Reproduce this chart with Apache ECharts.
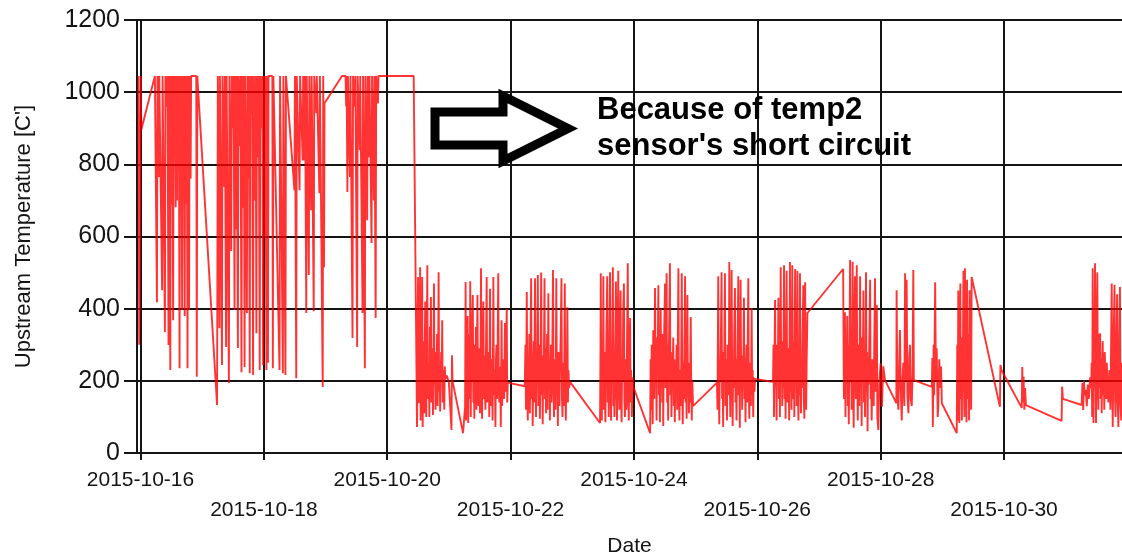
<!DOCTYPE html>
<html>
<head>
<meta charset="utf-8">
<title>Upstream Temperature</title>
<script src="https://cdn.jsdelivr.net/npm/echarts@6/dist/echarts.min.js"></script>
<style>
html, body { margin: 0; padding: 0; background: #fff; }
#chart { width: 1122px; height: 559px; }
</style>
</head>
<body>
<div id="chart"></div>
<script>
// start of the record, hours below are counted from here
const startDate = '2015-10-16'
// grid dates, one every two days
const tickDates = ['2015-10-16', '2015-10-18', '2015-10-20', '2015-10-22', '2015-10-24', '2015-10-26', '2015-10-28', '2015-10-30']
const yTicks = [0, 200, 400, 600, 800, 1000, 1200]

// [hours since start, upstream temperature]
// 16th - 20th: temp2 sensor short circuit, readings pinned near 1045
const shortCircuit = [
  [-0.8, 1045], [-0.5, 300], [0.1, 1045], [0.3, 895], [5.6, 1045],
  [6.3, 1045], [6.4, 418], [6.6, 1045], [7.1, 765], [7.3, 1045], [8.4, 451], [8.6, 1045], [9.5, 335], [9.7, 1045],
  [10.3, 960], [10.5, 1045], [10.9, 299], [11.1, 1045], [11.6, 230], [11.8, 1045], [12.2, 690], [12.4, 1045],
  [12.7, 368], [12.9, 1045], [13.2, 820], [13.4, 1045], [13.7, 681], [13.9, 1045], [14.2, 700], [14.4, 1045],
  [14.7, 880], [14.9, 1045], [15.2, 235], [15.4, 1045], [15.7, 720], [15.9, 1045], [16.2, 396], [16.4, 1045],
  [16.7, 840], [16.9, 1045], [17.2, 380], [17.4, 1045], [17.8, 690], [18.0, 1045], [18.3, 235], [18.5, 1045],
  [18.9, 396], [19.1, 1045], [19.5, 760], [19.7, 1045], [21.7, 1045], [21.9, 211], [22.1, 1045], [22.6, 1045],
  [29.8, 133],
  [30.1, 1045], [30.7, 346], [30.9, 1045], [31.7, 244], [31.9, 1045], [32.6, 737], [32.8, 1045], [33.3, 294],
  [33.5, 1045], [34.4, 194], [34.6, 1045], [35.3, 560], [35.5, 1045], [36.0, 900], [36.2, 1045], [36.6, 396],
  [36.8, 1045], [37.2, 620], [37.4, 1045], [37.9, 291], [38.1, 1045], [38.7, 850], [38.9, 1045], [39.3, 224],
  [39.5, 1045], [40.0, 680], [40.2, 1045], [40.5, 238], [40.7, 1045], [41.4, 388], [41.6, 1045], [42.0, 760],
  [42.2, 1045], [42.5, 221], [42.7, 1045], [43.2, 940], [43.4, 1045], [43.8, 216], [44.0, 1045], [44.6, 700],
  [44.8, 1045], [45.1, 332], [45.3, 1045], [45.8, 820], [46.0, 1045], [46.4, 230], [46.6, 1045], [47.2, 900],
  [47.4, 1045], [47.7, 244], [47.9, 1045], [48.4, 600], [48.6, 1045], [49.0, 230], [49.2, 1045], [49.6, 250],
  [49.8, 1045],
  [51.3, 1045], [51.5, 235], [51.7, 1045], [54.1, 230], [54.3, 1045], [55.4, 221], [55.6, 1045], [56.4, 216],
  [56.6, 1045], [59.9, 728], [60.1, 1045], [60.6, 207], [60.8, 1045], [61.9, 728], [62.1, 1045], [63.1, 811],
  [63.3, 1045], [63.8, 811], [64.0, 1045], [64.5, 388], [64.7, 1045], [65.5, 493], [65.7, 1045], [66.4, 673],
  [66.6, 1045], [67.4, 393], [67.6, 1045], [68.4, 942], [68.6, 1045], [69.6, 720], [69.8, 1045], [70.9, 183],
  [71.1, 1045], [71.4, 515], [71.6, 969], [78.4, 1045],
  [79.8, 1045], [80.0, 960], [80.2, 1045], [80.5, 723], [80.7, 1045], [81.5, 765], [81.7, 1045], [82.5, 319],
  [82.7, 1045], [83.4, 960], [83.6, 1045], [84.3, 294], [84.5, 1045], [85.3, 839], [85.5, 1045], [86.4, 388],
  [86.6, 1045], [87.3, 235], [87.5, 1045], [88.2, 645], [88.4, 1045], [88.9, 820], [89.1, 1045], [89.9, 582],
  [90.1, 1045], [90.8, 700], [91.0, 1045], [91.5, 374], [91.7, 1045], [92.4, 969], [92.6, 1045], [106.3, 1045]
]

// 20th onwards: normal operation, burners cycling
const normalRun = [
  [107.6, 72], [107.8, 300], [108.0, 488], [108.2, 138], [108.4, 260], [108.6, 230], [108.8, 515], [109.0, 90],
  [109.2, 280], [109.4, 200], [109.6, 488], [109.8, 72], [110.0, 310], [110.2, 240], [110.4, 110], [110.6, 300],
  [110.8, 420], [111.0, 180], [111.2, 100], [111.4, 290], [111.6, 520], [111.8, 150], [112.0, 250], [112.2, 220],
  [112.4, 100], [112.6, 350], [112.8, 260], [113.0, 432], [113.2, 140], [113.4, 230], [113.6, 290], [113.8, 105],
  [114.0, 250], [114.2, 470], [114.4, 190], [114.6, 280], [114.8, 120], [115.0, 240], [115.2, 210], [115.4, 330],
  [115.6, 130], [115.8, 260], [116.0, 501], [116.2, 170], [116.4, 250], [116.6, 115], [116.8, 220], [117.0, 280],
  [117.2, 200], [117.4, 368], [117.6, 140], [117.8, 230], [118.0, 210], [118.2, 120], [118.4, 240], [118.6, 205],
  [118.8, 200], [119.2, 215], [120.0, 195], [121.0, 64], [121.2, 271], [121.4, 200], [125.5, 55],

  [126.3, 128], [126.5, 474], [126.7, 90], [126.9, 300], [127.1, 170], [127.3, 380], [127.5, 83], [127.7, 260],
  [127.9, 330], [128.1, 150], [128.3, 476], [128.5, 100], [128.7, 280], [128.9, 200], [129.1, 380], [129.3, 438],
  [129.5, 140], [129.7, 250], [129.9, 95], [130.1, 300], [130.3, 160], [130.5, 350], [130.7, 120], [130.9, 260],
  [131.1, 438], [131.3, 200], [131.5, 130], [131.7, 240], [131.9, 290], [132.1, 110], [132.3, 250], [132.5, 512],
  [132.7, 180], [132.9, 95], [133.1, 230], [133.4, 420], [133.6, 150], [133.8, 270], [134.0, 200], [134.2, 120],
  [134.4, 260], [134.7, 488], [134.9, 140], [135.1, 240], [135.3, 160], [135.5, 280], [135.7, 100], [136.0, 455],
  [136.2, 190], [136.4, 130], [136.6, 260], [136.8, 210], [137.0, 90], [137.3, 488], [137.5, 160], [137.7, 230],
  [137.9, 200], [138.1, 72], [138.3, 260], [138.5, 300], [138.7, 150], [138.9, 220], [139.2, 498], [139.4, 180],
  [139.6, 140], [139.8, 240], [140.0, 200], [140.2, 72], [140.5, 368], [140.7, 130], [140.9, 220], [141.1, 170],
  [141.3, 260], [141.5, 150], [141.8, 360], [142.0, 170], [142.2, 230], [142.5, 400], [142.7, 140], [142.9, 195],
  [143.2, 200], [149.5, 185],

  [149.8, 300], [150.0, 120], [150.3, 446], [150.5, 180], [150.7, 90], [150.9, 260], [151.1, 220], [151.3, 330],
  [151.5, 110], [151.7, 250], [152.0, 484], [152.2, 150], [152.4, 280], [152.6, 75], [152.8, 230], [153.0, 310],
  [153.2, 140], [153.5, 484], [153.7, 200], [153.9, 100], [154.1, 260], [154.3, 190], [154.6, 493], [154.8, 130],
  [155.0, 240], [155.2, 300], [155.4, 95], [155.6, 220], [155.9, 500], [156.1, 160], [156.3, 270], [156.5, 80],
  [156.7, 230], [156.9, 200], [157.2, 484], [157.4, 150], [157.6, 290], [157.8, 110], [158.0, 240], [158.2, 330],
  [158.4, 120], [158.7, 443], [158.9, 180], [159.1, 260], [159.3, 90], [159.5, 220], [159.7, 300], [159.9, 140],
  [160.2, 250], [160.5, 507], [160.7, 170], [160.9, 100], [161.1, 260], [161.3, 200], [161.5, 120], [161.8, 484],
  [162.0, 160], [162.2, 240], [162.4, 75], [162.6, 280], [162.8, 190], [163.0, 130], [163.2, 230], [163.5, 320],
  [163.8, 484], [164.0, 150], [164.2, 100], [164.4, 250], [164.6, 200], [164.8, 130], [165.1, 470], [165.3, 170],
  [165.5, 90], [165.7, 240], [165.9, 210], [166.1, 404], [166.3, 140], [166.5, 230], [166.8, 180], [167.1, 197],
  [178.8, 83],

  [179.0, 300], [179.1, 498], [179.3, 150], [179.5, 90], [179.7, 260], [179.9, 200], [180.1, 490], [180.3, 120],
  [180.5, 280], [180.7, 170], [180.9, 85], [181.1, 240], [181.3, 330], [181.6, 490], [181.8, 140], [182.0, 250],
  [182.2, 100], [182.4, 300], [182.7, 501], [182.9, 180], [183.1, 90], [183.3, 260], [183.5, 210], [183.8, 515],
  [184.0, 130], [184.2, 280], [184.4, 100], [184.6, 240], [184.8, 350], [185.0, 475], [185.2, 160], [185.4, 90],
  [185.6, 270], [185.9, 505], [186.1, 190], [186.3, 120], [186.5, 300], [186.8, 450], [187.0, 140], [187.2, 85],
  [187.4, 250], [187.6, 200], [187.8, 380], [188.1, 470], [188.3, 150], [188.5, 100], [188.7, 260], [188.9, 220],
  [189.1, 120], [189.3, 300], [189.6, 526], [189.8, 170], [190.0, 90], [190.2, 240], [190.5, 374], [190.7, 140],
  [190.9, 230], [191.2, 100], [191.5, 210], [191.8, 183], [198.3, 55],

  [198.5, 260], [198.7, 120], [198.9, 300], [199.1, 180], [199.3, 80], [199.5, 340], [199.7, 220], [199.9, 150],
  [200.2, 457], [200.4, 190], [200.6, 280], [200.8, 90], [201.0, 320], [201.2, 230], [201.5, 465], [201.7, 160],
  [201.9, 300], [202.1, 85], [202.4, 400], [202.6, 200], [202.8, 280], [203.0, 140], [203.2, 330], [203.4, 75],
  [203.6, 260], [203.8, 350], [204.1, 470], [204.3, 180], [204.5, 270], [204.7, 498], [204.9, 140], [205.1, 300],
  [205.3, 90], [205.5, 250], [205.7, 340], [206.0, 526], [206.2, 160], [206.4, 280], [206.6, 100], [206.8, 240],
  [207.0, 200], [207.3, 320], [207.5, 130], [207.7, 260], [207.9, 85], [208.1, 220], [208.3, 180], [208.6, 300],
  [208.8, 120], [209.0, 240], [209.3, 512], [209.5, 150], [209.7, 90], [209.9, 230], [210.1, 190], [210.3, 130],
  [210.6, 498], [210.8, 170], [211.0, 80], [211.2, 250], [211.4, 150], [211.6, 260], [211.9, 490], [212.1, 140],
  [212.3, 210], [212.5, 95], [212.8, 438], [213.0, 160], [213.2, 220], [213.4, 110], [213.6, 250], [213.8, 140],
  [214.1, 377], [214.3, 180], [214.5, 90], [214.7, 200], [215.0, 130], [224.3, 195],

  [224.5, 120], [224.8, 490], [225.0, 180], [225.2, 80], [225.4, 260], [225.6, 200], [225.8, 300], [226.1, 501],
  [226.3, 150], [226.5, 240], [226.7, 72], [226.9, 280], [227.1, 210], [227.4, 498], [227.6, 130], [227.8, 260],
  [228.0, 180], [228.2, 90], [228.4, 300], [228.6, 220], [228.9, 160], [229.1, 529], [229.3, 200], [229.5, 100],
  [229.7, 270], [229.8, 150], [230.0, 507], [230.2, 230], [230.4, 75], [230.6, 250], [230.8, 180], [231.0, 310],
  [231.3, 457], [231.5, 140], [231.7, 260], [231.9, 90], [232.1, 220], [232.3, 280], [232.6, 490], [232.8, 160],
  [233.0, 240], [233.2, 70], [233.5, 480], [233.7, 200], [233.9, 270], [234.1, 120], [234.3, 230], [234.5, 180],
  [234.8, 430], [235.0, 150], [235.2, 260], [235.4, 85], [235.6, 220], [235.8, 300], [236.0, 140], [236.2, 240],
  [236.5, 484], [236.7, 170], [236.9, 95], [237.1, 250], [237.3, 190], [237.5, 130], [237.8, 402], [238.0, 160],
  [238.2, 230], [238.4, 100], [238.6, 210], [238.9, 170], [239.1, 205], [246.1, 197],

  [246.3, 300], [246.5, 100], [246.9, 424], [247.1, 180], [247.3, 260], [247.5, 90], [247.7, 300], [248.0, 220],
  [248.2, 430], [248.4, 150], [248.6, 270], [248.8, 100], [249.1, 515], [249.3, 200], [249.5, 310], [249.7, 130],
  [249.9, 240], [250.1, 180], [250.4, 520], [250.6, 150], [250.8, 280], [251.0, 95], [251.2, 330], [251.4, 505],
  [251.6, 200], [251.8, 140], [252.0, 290], [252.2, 220], [252.4, 90], [252.7, 529], [252.9, 170], [253.1, 300],
  [253.3, 120], [253.6, 520], [253.8, 230], [254.0, 150], [254.2, 310], [254.4, 100], [254.7, 510], [254.9, 190],
  [255.1, 260], [255.3, 130], [255.6, 505], [255.8, 200], [256.0, 90], [256.2, 280], [256.4, 160], [256.6, 498],
  [256.8, 210], [257.0, 110], [257.2, 260], [257.4, 180], [257.6, 330], [257.9, 465], [258.1, 150], [258.3, 95],
  [258.6, 473], [258.8, 200], [259.0, 120], [259.2, 250], [259.5, 388], [259.7, 390], [273.4, 510],

  [273.5, 388], [273.7, 150], [273.9, 260], [274.1, 390], [274.3, 100], [274.5, 280], [274.7, 200], [275.0, 380],
  [275.2, 130], [275.4, 300], [275.6, 80], [275.8, 240], [276.1, 535], [276.3, 200], [276.5, 300], [276.7, 120],
  [276.9, 250], [277.1, 530], [277.3, 170], [277.5, 70], [277.7, 290], [278.0, 490], [278.2, 220], [278.4, 150],
  [278.7, 520], [278.9, 200], [279.1, 90], [279.3, 300], [279.5, 250], [279.7, 130], [280.0, 490], [280.2, 180],
  [280.4, 280], [280.6, 75], [280.8, 320], [281.0, 200], [281.3, 450], [281.5, 140], [281.7, 260], [281.9, 100],
  [282.1, 230], [282.3, 501], [282.5, 170], [282.7, 280], [282.9, 60], [283.1, 250], [283.3, 190], [283.6, 320],
  [283.9, 480], [284.1, 150], [284.3, 230], [284.5, 90], [284.8, 260], [285.0, 200], [285.3, 130], [285.5, 300],
  [285.8, 484], [286.0, 170], [286.2, 240], [286.5, 410], [286.7, 100], [287.1, 64],

  [287.5, 200], [288.0, 249], [288.3, 140], [288.5, 128], [289.0, 240], [289.7, 202], [294.1, 138], [294.2, 451],
  [294.5, 160], [294.9, 120], [295.2, 240], [295.5, 341], [295.8, 180], [296.2, 90], [296.5, 200], [296.8, 250],
  [297.2, 130], [297.5, 498], [297.8, 200], [298.1, 480], [298.4, 160], [298.8, 110], [299.1, 260], [299.4, 300],
  [299.7, 150], [300.1, 130], [300.4, 220], [300.7, 507], [300.9, 202], [307.9, 183],

  [308.1, 263], [308.3, 72], [308.6, 300], [308.8, 160], [309.2, 473], [309.5, 200], [309.8, 290], [310.2, 100],
  [310.4, 128], [310.8, 260], [311.1, 180], [311.5, 240], [311.8, 138], [312.4, 138], [317.6, 55],

  [317.8, 300], [318.0, 90], [318.2, 450], [318.4, 200], [318.6, 83], [318.8, 280], [319.0, 470], [319.2, 150],
  [319.4, 230], [319.6, 90], [319.8, 320], [320.0, 260], [320.2, 505], [320.4, 180], [320.6, 100], [320.8, 512],
  [321.0, 200], [321.2, 300], [321.4, 85], [321.6, 480], [321.8, 240], [322.0, 150], [322.2, 330], [322.4, 90],
  [322.6, 451], [322.8, 200], [323.0, 270], [323.2, 120], [323.4, 488], [334.4, 128],

  [334.6, 244], [335.0, 230], [342.9, 125], [343.1, 238], [343.3, 140], [343.6, 211], [343.9, 120], [344.2, 180],
  [344.5, 133], [358.4, 89], [358.6, 184], [358.9, 150], [366.2, 133], [366.5, 194], [366.8, 119], [367.1, 200],
  [367.4, 160], [367.8, 175], [368.2, 130], [368.6, 190], [369.0, 150], [369.5, 210], [369.9, 180],

  [370.1, 250], [370.3, 100], [370.5, 512], [370.7, 200], [370.8, 83], [371.0, 300], [371.2, 180], [371.4, 526],
  [371.6, 230], [371.8, 83], [372.0, 280], [372.3, 500], [372.5, 200], [372.7, 120], [372.9, 330], [373.1, 180],
  [373.4, 332], [373.6, 150], [373.8, 260], [374.0, 110], [374.2, 240], [374.4, 310], [374.6, 160], [374.8, 230],
  [375.0, 120], [375.2, 280], [375.5, 200], [375.8, 150], [376.0, 250], [376.3, 180],
  [376.6, 140], [377.0, 230], [377.4, 120], [377.9, 470], [378.1, 200], [378.3, 72], [378.6, 300], [379.0, 466],
  [379.2, 150], [379.4, 100], [379.7, 250], [380.0, 440], [380.2, 150], [380.5, 72], [380.8, 300], [381.1, 460],
  [381.3, 140], [381.6, 90], [381.9, 250], [382.2, 180]
]

const HOUR = 3600 * 1000
const DAY = 24 * HOUR

function parseDay(s) {
  const p = s.split('-').map(Number)
  return new Date(p[0], p[1] - 1, p[2]).getTime()
}
function pad(n) { return n < 10 ? '0' + n : '' + n }
function dayLabel(t) {
  const d = new Date(t)
  return d.getFullYear() + '-' + pad(d.getMonth() + 1) + '-' + pad(d.getDate())
}

const start = parseDay(startDate)
const tickTimes = tickDates.map(parseDay)
const seriesData = shortCircuit.concat(normalRun).map(r => [start + r[0] * HOUR, r[1]])

const textColor = '#151515'
const gridColor = '#151515'
const font = '"Liberation Sans", Arial, sans-serif'

const myChart = echarts.init(document.getElementById('chart'))
myChart.setOption({
  animation: false,
  backgroundColor: '#fff',
  textStyle: { fontFamily: font },
  grid: {
    left: 137,
    right: 0,
    top: 20,
    bottom: 106,
    containLabel: false,
    outerBoundsMode: 'none'
  },
  xAxis: {
    // plain value axis holding timestamps, labelled as dates
    type: 'value',
    min: start - 1.36 * HOUR,
    max: start + 381.9 * HOUR,
    name: 'Date',
    nameLocation: 'middle',
    nameGap: 83,
    nameTextStyle: { fontSize: 21, color: textColor, fontFamily: font },
    axisLine: { lineStyle: { color: gridColor, width: 2 } },
    axisTick: {
      customValues: tickTimes,
      length: 7,
      lineStyle: { color: gridColor, width: 2 }
    },
    axisLabel: {
      customValues: tickTimes,
      fontSize: 21,
      lineHeight: 30,
      margin: 12,
      color: textColor,
      fontFamily: font,
      formatter: function (value) {
        const k = Math.round((value - start) / DAY / 2)
        return k % 2 === 1 ? '\n' + dayLabel(value) : dayLabel(value)
      }
    },
    splitLine: { show: true, lineStyle: { color: gridColor, width: 2 } }
  },
  yAxis: {
    type: 'value',
    min: yTicks[0],
    max: yTicks[yTicks.length - 1],
    interval: 200,
    name: "Upstream Temperature [C']",
    nameLocation: 'middle',
    nameGap: 102,
    nameTextStyle: { fontSize: 22, color: textColor, fontFamily: font },
    axisLine: { show: true, lineStyle: { color: gridColor, width: 2 } },
    axisTick: { show: true, length: 13, lineStyle: { color: gridColor, width: 2 } },
    axisLabel: {
      fontSize: 25,
      margin: 17,
      color: textColor,
      fontFamily: font,
      formatter: function (value) { return String(value) }
    },
    splitLine: { show: true, lineStyle: { color: gridColor, width: 2 } }
  },
  series: [{
    name: 'Upstream Temperature',
    type: 'line',
    data: seriesData,
    showSymbol: false,
    symbol: 'none',
    lineStyle: { color: '#ff0000', width: 1.9, opacity: 0.8 },
    emphasis: { disabled: true }
  }],
  graphic: [
    {
      type: 'polygon',
      z: 100,
      shape: {
        points: [[435, 112], [503, 112], [503, 96], [568, 128.5], [503, 161], [503, 145], [435, 145]]
      },
      style: { fill: '#fff', stroke: '#000', lineWidth: 9, lineJoin: 'miter' }
    },
    {
      type: 'text',
      z: 100,
      x: 597,
      y: 92,
      style: {
        text: "Because of temp2\nsensor's short circuit",
        fontSize: 31,
        fontWeight: 'bold',
        fontFamily: font,
        lineHeight: 36,
        fill: '#000'
      }
    }
  ]
})
window.addEventListener('resize', () => { myChart.resize() })
</script>
</body>
</html>
